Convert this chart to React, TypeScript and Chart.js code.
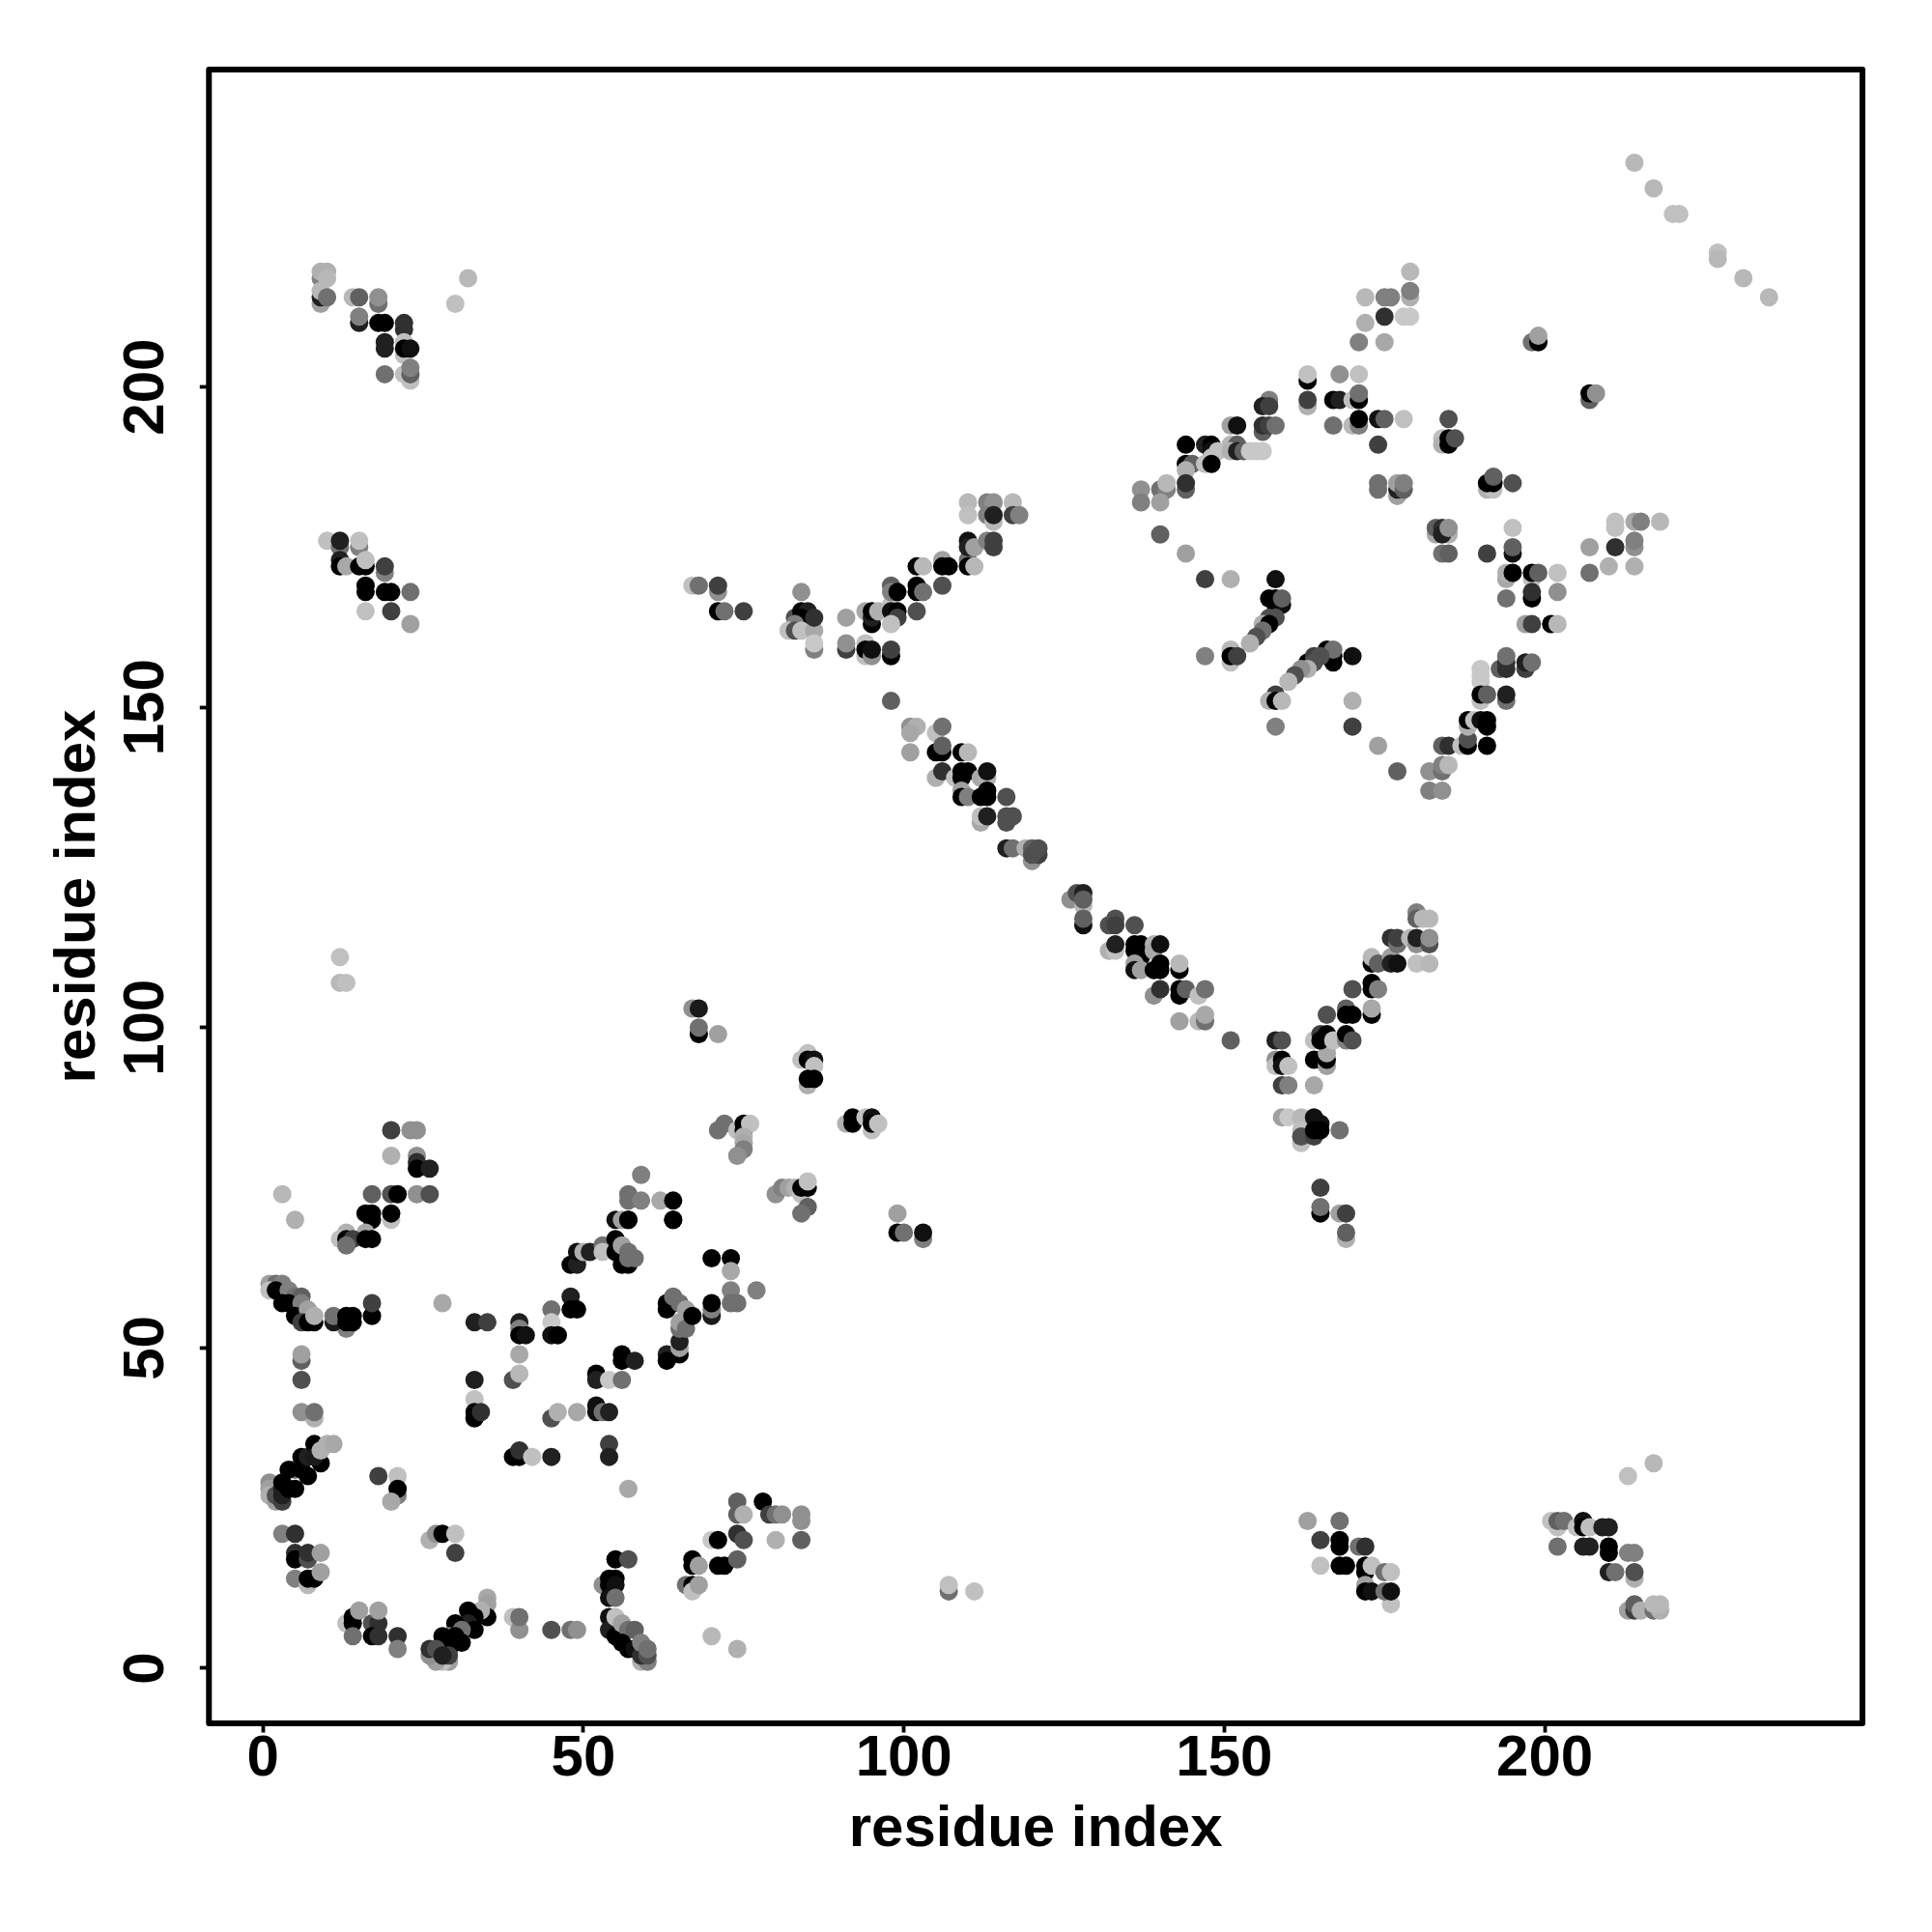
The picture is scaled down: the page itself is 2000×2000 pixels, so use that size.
import React, { useEffect, useRef } from "react";
import { Chart, registerables } from "chart.js";

Chart.register(...registerables);

type Contact = [number, number, number];

const axisTicks = [0, 50, 100, 150, 200];
const axisTitle = "residue index";

const lowerLeftEdge: Contact[] = [
  [5,70,176],[20,70,192],[20,71,0],[16,71,0],[17,71,0],[17,70,0],[16,68,168],[13,68,176],[12,67,192],[13,67,0],[14,67,64],[13,66,112],[16,67,0],[17,67,0],
  [20,84,64],[23,84,144],[24,84,144],[20,80,176],[24,80,144],[24,79,48],[24,78,0],[26,78,32],[24,74,144],[26,74,80],[20,74,80],[21,74,0],[17,74,96],
  [1,60,160],[2,60,112],[3,60,128],[1,59,192],[2,59,0],[4,59,128],[3,57,0],[5,58,112],[6,58,96],[4,57,0],[6,57,128],[5,55,0],[7,56,160],[6,54,64],[7,54,0],[8,54,0],[8,55,176],
  [13,53,128],[11,54,26],[11,55,112],[13,54,0],[14,54,0],[13,55,0],[14,55,0],[17,55,0],[17,57,64],
  [6,48,96],[6,49,160],[6,45,80],[8,39,176],[6,40,144],[8,40,112],[28,57,168],
];

const centreLeft: Contact[] = [
  [33,54,32],[35,54,64],[33,45,32],[33,42,192],[33,39,0],[33,40,0],[34,40,48],
  [40,54,32],[40,53,128],[40,52,0],[41,52,16],[40,49,168],[39,45,80],[40,46,184],
  [45,56,112],[45,54,200],[45,52,16],[46,52,0],[48,58,32],[48,56,0],[49,56,0],
  [45,39,80],[46,40,176],[49,40,168],[52,41,16],[52,40,16],[53,40,112],[54,40,32],
  [39,33,0],[40,33,0],[40,34,48],[42,33,192],[45,33,32],[54,35,64],[54,33,32],[57,28,168],
  [55,70,16],[56,70,160],[57,70,0],[64,70,0],
  [48,63,0],[49,63,32],[49,65,16],[50,65,176],[51,65,32],[53,66,112],[53,65,192],[55,67,0],[55,65,0],[56,63,0],[57,63,0],[56,66,160],[57,65,112],[58,64,112],[57,64,112],
  [52,46,0],[52,45,32],[54,45,200],[56,45,112],[56,49,0],[56,48,0],[58,48,32],
  [63,49,32],[63,48,0],[65,49,0],[65,50,160],[65,51,32],[66,54,192],[65,53,112],[63,57,0],[63,56,0],[64,57,0],[64,58,112],[65,57,112],[66,56,160],[65,54,160],[66,53,112],[67,55,0],
];

const lowerCornerA: Contact[] = [
  [3,21,128],[5,21,48],[5,18,48],[5,17,0],[7,17,80],[7,18,48],[9,18,160],[5,14,128],[7,13,184],[7,14,0],[8,14,0],[9,15,160],
  [1,29,144],[1,28,160],[1,27,176],[2,26,160],[2,27,80],[3,26,64],[3,27,32],[3,28,32],[5,31,112],[3,29,0],[4,28,0],[5,28,0],[4,31,0],[6,31,0],[7,30,0],[6,33,0],[7,33,32],[8,35,0],[9,32,0],[8,33,26],[9,34,176],[10,35,176],[11,35,168],
  [18,30,64],[21,30,192],[21,27,128],[21,28,0],[20,26,168],[26,20,176],[27,21,144],[28,21,0],[30,21,192],[30,18,64],
];

const lowerCornerB: Contact[] = [
  [13,7,192],[14,8,0],[14,7,0],[15,9,160],[14,5,112],[17,7,80],[18,7,48],[18,9,160],[17,5,0],[18,5,48],[21,5,48],[21,3,128],
  [35,11,168],[35,10,160],[35,8,0],[34,9,176],[32,9,0],[33,8,0],[32,7,32],[33,6,0],[30,7,0],[31,6,112],[29,5,128],[31,4,0],[30,5,0],[28,5,0],[28,4,0],[29,1,160],[28,1,192],[27,1,160],[26,2,144],[29,3,0],[29,2,64],[26,3,48],[27,3,80],[28,2,32],
  [39,8,192],[40,6,144],[40,8,112],[45,6,80],[48,6,112],[49,6,144],
  [55,17,0],[57,17,80],[53,13,144],[54,14,0],[55,14,0],[54,13,0],[55,13,16],[54,11,16],[55,11,112],
  [54,8,16],[54,6,32],[55,5,0],[55,8,192],[56,7,160],[57,6,112],[58,6,96],[57,3,0],[56,4,0],[58,3,16],[59,1,176],[60,1,128],[59,2,48],[60,2,80],[59,4,128],[60,3,112],
  [67,17,0],[67,16,0],[68,16,160],[66,13,112],[67,13,0],[67,12,192],[68,13,160],
  [70,20,200],[71,20,0],[70,5,184],[74,3,176],[71,16,0],[72,16,0],[74,17,96],[74,21,48],[75,20,80],[74,26,96],[74,24,96],[75,24,176],[78,26,0],[79,24,64],[80,24,112],[81,24,144],[84,24,144],[84,23,144],[84,20,96],[80,20,176],
  [107,12,112],[107,13,192],[111,12,192],
];

const middleGroup: Contact[] = [
  [12,107,184],[13,107,192],[12,111,192],[3,74,184],
  [67,103,144],[68,103,26],[68,99,0],[68,100,112],[71,99,160],
  [85,96,192],[84,95,192],[85,95,0],[86,95,16],[86,94,192],[85,91,176],[85,92,0],[86,92,0],
  [71,84,112],[72,85,112],[74,84,192],[75,84,0],[75,85,0],[76,85,192],[75,83,176],[75,82,168],[75,81,128],[74,80,144],
  [91,85,176],[92,86,0],[92,85,0],[94,86,192],[95,84,192],[95,86,16],[95,85,0],[96,85,192],
  [59,77,128],[57,74,112],[57,73,112],[59,73,128],[62,73,168],[64,73,0],[57,70,0],[64,70,0],
  [80,74,144],[81,75,128],[82,75,160],[83,75,176],[84,74,192],[84,75,0],[85,75,0],[85,76,192],[85,72,96],[84,71,112],
  [99,71,160],[99,68,0],[100,68,112],[103,67,128],[103,68,16],
  [70,64,0],[73,64,0],[73,62,168],[73,59,128],[77,59,128],[73,57,112],[74,57,112],[70,55,26],[70,56,128],[70,57,0],
];

const diagonalUpper: Contact[] = [
  [67,169,192],[68,169,112],[71,168,144],[71,169,64],[71,165,0],[72,165,112],[75,165,64],
  [84,168,144],[83,164,80],[84,165,0],[85,165,32],[84,164,0],[83,163,128],[82,162,192],[83,162,80],[84,162,192],[86,162,168],[86,164,48],[86,159,128],[86,160,200],
  [91,164,160],[91,159,64],[91,160,144],[94,165,168],[95,163,0],[95,164,32],[95,165,0],[96,165,176],[98,166,192],[98,165,16],[99,165,0],[99,164,64],[98,163,192],[102,165,80],
  [98,169,96],[98,168,128],[99,168,0],[102,169,0],[102,168,0],[103,168,112],[106,169,80],
  [102,172,0],[103,172,184],[106,173,160],[106,172,0],[107,172,0],[110,173,112],[110,172,0],[111,172,184],
  [110,176,16],[110,175,32],[111,175,160],[113,176,128],[114,175,64],[114,176,64],
  [110,182,184],[110,180,192],[113,182,128],[114,182,144],[113,180,128],[114,179,184],[114,180,32],[117,182,184],[117,180,64],[118,180,128],
  [94,160,192],[94,158,192],[94,159,0],[95,158,144],[95,159,16],[98,158,0],[98,159,64],
];

const diagonalLower: Contact[] = [
  [98,151,96],[101,147,144],[102,147,176],[101,146,168],[101,143,160],[105,146,192],[106,147,112],
  [105,143,0],[106,143,0],[106,144,96],[109,143,0],[110,143,184],
  [105,139,176],[106,140,48],[108,139,192],[109,140,0],[110,140,0],[109,139,0],[112,139,168],[113,139,176],[113,140,16],
  [109,137,160],[109,136,0],[110,136,128],[112,136,0],[113,136,0],[113,137,0],[116,136,80],
  [112,132,168],[112,133,192],[113,133,32],[116,132,80],[116,133,80],[117,133,80],
  [116,128,32],[117,128,112],[119,128,176],[120,126,144],[120,128,96],[121,127,64],[120,127,80],[121,128,80],
  [126,120,144],[128,119,184],[127,121,80],[128,121,32],[128,120,96],[128,116,16],[128,117,96],
  [132,116,80],[133,117,80],[133,116,64],[136,116,80],
  [132,112,176],[133,112,192],[133,113,32],[136,113,0],[137,113,0],[136,112,0],[137,111,0],[139,113,176],[139,112,168],[140,113,16],
  [136,110,160],[136,109,16],[137,109,160],[140,110,0],[139,109,0],[140,109,0],[143,109,0],[143,110,184],
  [139,105,144],[140,106,48],[143,105,0],[143,106,0],[144,106,96],[146,105,192],[147,106,112],
  [143,101,160],[146,101,184],[147,101,112],[147,102,168],[151,98,96],
];

const armRising: Contact[] = [
  [158,98,32],[159,98,80],[158,95,144],[158,94,192],[159,95,0],[159,94,16],[160,94,192],[159,91,64],[160,91,128],[164,91,168],
  [159,86,160],[160,86,200],[162,86,184],[163,84,128],[162,84,192],[162,82,192],[162,83,80],[164,83,64],[164,86,16],[165,85,16],[164,84,0],[165,84,0],[168,84,112],
  [165,71,0],[165,72,112],[165,75,64],[168,71,160],[169,71,64],[169,67,176],[169,68,96],
  [164,95,0],[165,95,0],[166,94,160],[166,95,0],[166,96,168],[164,98,192],[165,99,64],[166,99,0],[165,98,0],[167,98,192],
  [166,102,80],[169,103,96],[169,102,0],[170,102,0],[169,98,128],[169,99,0],[170,98,80],[170,106,80],
  [173,107,0],[173,106,0],[174,106,128],[173,102,0],[173,103,168],[173,110,0],[173,111,184],[174,110,96],[176,111,160],[176,110,32],[177,110,16],
  [176,114,48],[177,113,112],[177,114,64],[179,114,184],[180,113,144],[180,114,32],[182,113,80],[182,114,144],[180,110,192],[182,110,184],
  [180,118,128],[180,117,96],[181,117,184],[182,117,184],
];

const upperRightA: Contact[] = [
  [179,218,184],[172,214,184],[175,214,128],[176,214,128],[179,214,176],[179,215,128],[172,210,176],[175,211,48],[178,211,200],[179,211,200],[171,207,128],[175,207,168],
  [198,207,112],[199,207,0],[199,208,160],
  [163,201,0],[163,202,192],[168,202,144],[171,202,192],[163,197,176],[163,198,64],[167,198,0],[168,198,32],[170,198,192],[171,198,0],[171,199,112],
  [167,194,112],[170,194,184],[171,194,128],[171,195,0],[174,195,16],[175,195,96],[178,195,192],[174,191,64],
  [185,195,80],[184,192,192],[184,191,176],[185,191,0],[185,192,0],[186,192,80],[207,198,96],[207,199,0],[208,199,144],
  [157,198,128],[156,197,32],[157,197,64],[156,193,96],[156,194,48],[157,194,64],[158,194,112],[151,194,160],[152,194,16],
  [144,191,0],[147,191,32],[148,191,0],[151,191,184],[152,191,96],[148,190,16],[149,190,192],[151,190,176],[152,190,32],[153,190,96],[154,190,200],[155,190,200],[156,190,200],
  [144,188,0],[145,188,96],[148,189,192],[147,188,192],[148,188,0],[144,187,176],[144,184,96],[144,185,48],[140,184,112],[141,184,128],[141,185,184],[137,184,144],[137,182,128],[140,182,160],
  [140,177,96],[144,174,160],[147,170,64],[151,170,176],
];

const upperRightB: Contact[] = [
  [158,170,16],[157,167,0],[158,166,0],[159,166,16],[158,167,0],[159,167,96],
  [158,164,80],[157,164,80],[156,163,176],[157,163,0],[156,162,112],[155,161,80],[154,160,176],
  [147,158,128],[151,159,184],[151,157,192],[151,158,0],[152,158,64],
  [166,159,0],[167,157,0],[167,158,0],[167,159,112],[170,158,16],[163,157,0],[164,158,64],[165,158,80],[164,157,80],[163,156,176],[162,156,144],[161,155,80],[160,154,184],
  [158,152,64],[157,151,176],[158,151,0],[159,151,184],[158,147,128],
  [170,151,176],[170,147,64],[174,144,160],[177,140,96],[182,140,144],[184,140,112],[184,141,128],[185,141,184],[182,137,128],[184,137,144],
  [184,144,96],[185,144,48],[187,144,192],[188,144,0],[188,145,80],[188,147,176],[188,148,0],[189,148,192],[190,148,16],[191,147,0],[191,148,0],[191,144,0],
  [190,156,200],[190,155,200],[190,154,200],[190,151,192],[190,152,0],[191,152,96],[194,151,112],[194,152,32],
  [193,156,96],[194,156,48],[194,157,48],[194,158,112],[197,156,64],[197,157,32],[198,157,112],
];

const upperRightC: Contact[] = [
  [183,177,168],[183,178,96],[184,178,48],[185,177,176],[184,177,32],[185,178,144],[184,174,112],[185,174,96],
  [191,174,64],[195,178,192],[195,174,16],[195,175,96],[194,170,168],[194,171,176],[195,171,0],[198,170,192],[198,171,0],[199,171,96],[202,171,192],
  [198,167,0],[198,168,48],[202,168,144],[194,167,112],[197,163,160],[198,163,64],[201,163,0],[202,163,184],
  [207,175,160],[211,175,48],[207,171,112],[210,172,176],[214,172,176],[214,175,144],[214,176,128],[211,179,192],[211,178,192],[214,179,168],[215,179,128],[218,179,184],
  [191,184,176],[192,184,192],[191,185,0],[192,185,0],[192,186,96],[195,185,80],
  [174,184,112],[174,185,112],[177,183,160],[177,184,32],[177,185,160],[178,184,96],[178,185,128],
  [214,235,184],[217,231,184],[220,227,192],[221,227,192],[227,221,192],[227,220,184],[231,217,184],[235,214,184],
];

const topLeftGroup: Contact[] = [
  [9,217,128],[9,218,176],[10,218,176],[10,217,184],[9,213,160],[9,214,32],[9,215,184],[10,214,112],
  [14,214,184],[15,214,96],[18,213,112],[18,214,144],[15,210,32],[15,211,128],[18,210,0],[19,210,0],[22,209,48],[22,210,48],
  [19,207,32],[19,206,32],[22,207,192],[22,205,192],[22,206,0],[23,206,16],[19,202,112],[22,202,192],[23,201,192],[23,202,96],[23,203,128],
  [30,213,192],[32,217,184],
  [10,176,192],[12,175,112],[12,176,32],[15,175,128],[15,176,192],[12,173,32],[12,172,0],[13,172,168],[15,172,0],[16,172,0],[16,173,192],[19,171,128],[19,172,64],
  [16,169,0],[16,168,0],[19,168,0],[20,168,0],[23,168,112],[16,165,192],[20,165,64],[23,163,160],
];

const lowerRightGroup: Contact[] = [
  [163,23,160],[168,23,112],[165,20,64],[168,20,0],[168,19,0],[171,19,112],[172,19,48],[165,16,192],[168,16,0],[169,16,0],[172,15,0],[172,16,0],[173,16,192],[175,15,112],[176,15,192],
  [176,10,192],[172,13,160],[172,12,0],[173,12,16],[175,12,112],[176,12,16],
  [201,23,192],[202,22,192],[202,23,96],[203,23,112],[205,22,192],[206,23,16],[206,22,0],[207,22,192],[209,22,32],[210,22,32],[202,19,112],[206,19,32],[207,19,32],[210,18,0],[210,19,0],[213,18,128],[214,18,128],
  [210,15,32],[211,15,112],[214,14,176],[214,15,80],[213,9,160],[214,9,64],[214,10,96],[215,9,176],[217,9,112],[218,9,176],[217,10,184],[218,10,184],[213,30,192],[217,32,184],
];

const allContacts: Contact[] = [
  ...lowerLeftEdge, ...centreLeft, ...lowerCornerA, ...lowerCornerB, ...middleGroup, ...diagonalUpper,
  ...diagonalLower, ...armRising, ...upperRightA, ...upperRightB, ...upperRightC, ...topLeftGroup, ...lowerRightGroup,
];

const grey = (v: number) => `rgb(${v},${v},${v})`;
const FONT = '"Liberation Sans", Arial, sans-serif';

const boxPlugin = {
  id: "box",
  afterDraw(chart: any) {
    const { ctx, chartArea: a } = chart;
    ctx.save();
    ctx.strokeStyle = "#000";
    ctx.lineWidth = 6;
    ctx.lineJoin = "round";
    ctx.strokeRect(a.left, a.top, a.right - a.left, a.bottom - a.top);
    ctx.restore();
  },
};

export default function App() {
  const ref = useRef<HTMLCanvasElement>(null);
  useEffect(() => {
    const font = { family: FONT, size: 60, weight: "bold" as const, lineHeight: 1 };
    const axisBase = {
      type: "linear" as const,
      afterBuildTicks(scale: any) {
        scale.ticks = axisTicks.map((value) => ({ value }));
      },
      border: { display: false },
      grid: { drawOnChartArea: false, drawTicks: true, tickLength: 9.5, tickWidth: 3.8, color: "#000" },
    };
    const chart = new Chart(ref.current as HTMLCanvasElement, {
      type: "scatter",
      data: {
        datasets: [
          {
            data: allContacts.map(([x, y]) => ({ x, y })),
            backgroundColor: allContacts.map((c) => grey(c[2])),
            borderWidth: 0,
            pointRadius: 9.5,
            pointHoverRadius: 9.5,
          },
        ],
      },
      options: {
        responsive: false,
        animation: false,
        layout: { padding: { top: 72, right: 72, left: 0, bottom: 0 } },
        plugins: { legend: { display: false }, tooltip: { enabled: false }, title: { display: false } },
        scales: {
          x: {
            ...axisBase,
            min: -8.44,
            max: 249.58,
            afterFit(scale: any) {
              scale.height = 216;
            },
            ticks: { color: "#000", font, padding: -2, maxRotation: 0, minRotation: 0, autoSkip: false },
            title: { display: true, text: axisTitle, color: "#000", font, padding: { top: 0, bottom: 75.5 } },
          },
          y: {
            ...axisBase,
            min: -8.6,
            max: 249.56,
            afterFit(scale: any) {
              scale.width = 216.3;
            },
            ticks: { color: "#000", font, padding: 3.8, minRotation: 90, maxRotation: 90, crossAlign: "center", autoSkip: false },
            title: { display: true, text: axisTitle, color: "#000", font, padding: { top: 51, bottom: 0 } },
          },
        },
      },
      plugins: [boxPlugin],
    } as any);
    return () => chart.destroy();
  }, []);
  return (
    <div style={{ position: "absolute", left: 0, top: 0, width: 2000, height: 2000, background: "#fff" }}>
      <canvas ref={ref} width={2000} height={2000} style={{ display: "block" }} />
    </div>
  );
}
